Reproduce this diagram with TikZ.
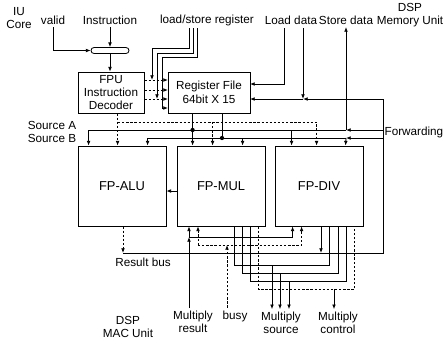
\documentclass[tikz,border=0pt]{standalone}
\usepackage{fontspec}
\setmainfont{Liberation Sans}
\usetikzlibrary{arrows.meta, positioning, calc}

\begin{document}
\begin{tikzpicture}[
  x=0.03cm, y=-0.03cm,
  line width=0.7pt,
  font=\fontsize{10}{11.5}\selectfont,
  >={Latex[length=4pt,width=3.2pt]},
  box/.style={rectangle, draw, align=center, minimum width=24.6mm, minimum height=12.3mm, inner sep=1pt},
  unit/.style={rectangle, draw, minimum width=26.4mm, minimum height=24mm, font=\fontsize{11}{13}\selectfont},
  lbl/.style={align=center, inner sep=2pt},
  ctl/.style={dash pattern=on 2pt off 1.5pt},
  dot/.style={circle, fill, inner sep=1.3pt}
]
\useasboundingbox (0,0) rectangle (444,350);

% Outside units
\node[lbl] (iu) at (19,18) {IU\\Core};
\node[lbl] (valid) at (53,20) {valid};
\node[lbl] (instr) at (110,20) {Instruction};
\node[lbl] (lsreg) at (207,20) {load/store register};
\node[lbl] (ldata) at (291,20) {Load data};
\node[lbl] (sdata) at (346,20) {Store data};
\node[lbl] (dspmem) at (410,15) {DSP\\Memory Unit};
\node[lbl] (srcab) at (52,132) {Source A\\Source B};
\node[lbl, anchor=east] (fwdlbl) at (446,132) {Forwarding};
\node[lbl] (resbus) at (143,262) {Result bus};
\node[lbl] (dspmac) at (128,327) {DSP\\MAC Unit};
\node[lbl] (mres) at (193,322) {Multiply\\result};
\node[lbl] (busy) at (235,316) {busy};
\node[lbl] (msrc) at (281,323) {Multiply\\source};
\node[lbl] (mctl) at (338,323) {Multiply\\control};

% Decoder and register file
\node[draw, rounded corners=0.9mm, minimum width=11.4mm, minimum height=1.8mm, inner sep=0pt] (latch) at (110,50.5) {};
\node[box, minimum width=19.8mm] (dec) at (111,92.5) {FPU\\Instruction\\Decoder};
\node[box] (rf) at (209,92.5) {Register File\\64bit X 15};

% Execution units
\node[unit] (alu) at (122,186) {FP-ALU};
\node[unit] (mul) at (221,186) {FP-MUL};
\node[unit] (div) at (319,186) {FP-DIV};

% Junction points
\coordinate (ls1) at (189,28);
\coordinate (ls2) at (193,28);
\coordinate (ls3) at (197,28);
\coordinate (rfa) at (168,80);
\coordinate (rfb) at (168,90);
\coordinate (rfc) at (168,99);
\coordinate (rfd) at (168,108);
\coordinate (lsa) at (152,80);
\coordinate (lsb) at (157,99);
\coordinate (ld1) at (284,28);
\coordinate (ld2) at (303,28);
\coordinate (rfe) at (250,84);
\coordinate (rff) at (250,99);
\coordinate (fwd) at (383,99);
\coordinate (sa) at (346,130);
\coordinate (sb) at (346,138);
\coordinate (cbus) at (118,122);
\coordinate (rfB) at (222,113);
\coordinate (rb) at (123,253);
\coordinate (dq) at (321,253);
\coordinate (mrj) at (189,237);
\coordinate (bzj) at (198,245);
\coordinate (bzl) at (227,245);

% Drops into the units (source A, control, source B)
\coordinate (aluA) at ($(alu.north west)+(11,0)$);
\coordinate (aluC) at ($(alu.north west)+(40,0)$);
\coordinate (aluB) at ($(alu.north west)+(70,0)$);
\coordinate (mulA) at ($(mul.north west)+(16,0)$);
\coordinate (mulC) at ($(mul.north west)+(36,0)$);
\coordinate (mulB) at ($(mul.north west)+(66,0)$);
\coordinate (divA) at ($(div.north west)+(17,0)$);
\coordinate (divC) at ($(div.north west)+(42,0)$);
\coordinate (divB) at ($(div.north west)+(71,0)$);
\coordinate (divR) at ($(div.south west)+(18,0)$);
\coordinate (divS) at ($(div.south west)+(27,0)$);

% Instruction fetch
\draw[->] (valid.south) |- (latch.west);
\draw[->] (instr.south) -- (latch.north);
\draw[->] (latch.south) -- (latch.south |- dec.north);

% Register addresses
\draw[ctl,->] (dec.east |- rfa) -- (rfa);
\draw[ctl,->] (dec.east |- rfb) -- (rfb);
\draw[ctl,->] (dec.east |- rfc) -- (rfc);
\draw[->] (ls1) -- ++(0,20) -| (lsa);
\draw[->] (ls2) -- ++(0,25) -| (lsb);
\draw[->] (ls3) -- ++(0,29) -| ($(rfd)+(-6,0)$) -- (rfd);

% Load data and forwarding
\draw[->] (ld1) |- (rfe);
\draw[->] (ld2) -- (ld2 |- rff);
\draw[->] (fwd) -- (ld2 |- rff);
\draw[->] (ld2 |- rff) -- (rff);
\draw[ctl,->] (rb |- alu.south) -- (rb);
\draw (rb) -| (fwd);
\draw[->] (dq |- div.south) -- (dq);
\draw[->] (fwd |- sa) -- (sa);
\draw[->] (fwd |- sb) -- (sb);

% Source buses
\draw[->] (sa) -| (aluA);
\draw[->] (sb) -| (aluB);
\draw[->] (sa) -- (sa |- sdata.south);
\draw[->] (sb) -- (divB);
\draw[->] (divA |- sa) -- (divA);
\draw[->] (mulB |- sb) -- (mulB);
\draw[->] (mulA |- rf.south) -- (mulA);
\draw (rfB) -- (rfB |- sb);
\node[dot] (jA) at (mulA |- sa) {};
\node[dot] (jB) at (rfB |- sb) {};

% Decoder control
\draw[ctl,->] (dec.south -| aluC) -- (aluC);
\draw[ctl,->] (cbus) -| (divC);
\draw[ctl,->] (mulC |- cbus) -- (mulC);

\draw[->] ($(mul.west)+(0,5)$) -- ($(alu.east)+(0,5)$);

% MAC unit
\draw[->] (mrj |- mres.north) -- (mrj);
\draw[->] (mrj) -- (mrj |- mul.south);
\draw[->] (mrj) -| (divR);
\draw[ctl,->] (bzl |- busy.north) -- (bzl);
\draw[ctl,->] (bzj) -- (bzj |- mul.south);
\draw[ctl,->] (bzj) -| (divS);

\foreach \m/\d/\y in {58/55/39, 66/64/47, 74/72/55}
  \draw ($(mul.south west)+(\m,0)$) -- ++(0,\y) -| ($(div.south west)+(\d,0)$);
\draw[ctl] ($(mul.south west)+(82,0)$) -- ++(0,63) -| ($(div.south west)+(80,0)$);
\foreach \x/\y in {272/265, 280/273, 289/281}
  \draw[->] (\x,\y) -- (\x,\y |- msrc.north);
\draw[->] (334,289) -- (334,289 |- mctl.north);

\end{tikzpicture}
\end{document}
